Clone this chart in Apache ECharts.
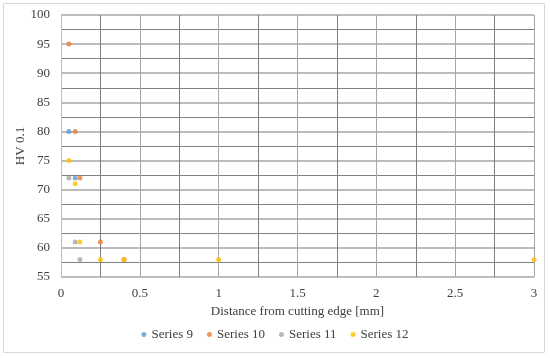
<!DOCTYPE html>
<html>
<head>
<meta charset="utf-8">
<script src="https://cdn.jsdelivr.net/npm/echarts@6/dist/echarts.min.js"></script>
<style>html,body{margin:0;padding:0;background:#fff}#c{width:550px;height:358px}</style>
</head>
<body>
<div id="c"></div>
<script>
var seriesNames = ['Series 9', 'Series 10', 'Series 11', 'Series 12'];
var colors = ['#5B9BD5', '#ED7D31', '#A5A5A5', '#FFC000'];
var xTicks = [0, 0.5, 1, 1.5, 2, 2.5, 3];
var s9x = [0.05, 0.09];
var s9y = [80, 72];
var s10x = [0.05, 0.09, 0.12, 0.25, 0.4];
var s10y = [95, 80, 72, 61, 58];
var s11x = [0.05, 0.09, 0.12];
var s11y = [72, 61, 58];
var s12x = [0.05, 0.09, 0.12, 0.25, 0.4, 1, 3];
var s12y = [75, 71, 61, 58, 58, 58, 58];

function pairs(xs, ys) { return xs.map(function (x, i) { return [x, ys[i]]; }); }
var allData = [pairs(s9x, s9y), pairs(s10x, s10y), pairs(s11x, s11y), pairs(s12x, s12y)];
var font = '"Liberation Serif", "DejaVu Serif", serif';
var fs = 13;

var chart = echarts.init(document.getElementById('c'), null, {renderer: 'canvas'});
chart.setOption({
  animation: false,
  textStyle: {fontFamily: font},
  graphic: [{
    type: 'rect', shape: {x: 3.5, y: 3.5, width: 541, height: 349},
    style: {fill: 'none', stroke: '#d9d9d9', lineWidth: 1}, silent: true
  }],
  grid: {left: 61, right: 16, top: 15, bottom: 81},
  legend: {
    bottom: 12, left: 'center', icon: 'circle', itemWidth: 5, itemHeight: 5, itemGap: 14,
    textStyle: {fontFamily: font, fontSize: fs, color: '#404040'},
    data: seriesNames
  },
  xAxis: {
    type: 'value', min: 0, max: 3, interval: 0.5,
    name: 'Distance from cutting edge [mm]', nameLocation: 'middle', nameGap: 28,
    nameTextStyle: {fontFamily: font, fontSize: fs, color: '#404040'},
    axisLine: {show: true, lineStyle: {color: '#bfbfbf'}},
    axisTick: {show: false},
    axisLabel: {margin: 10, fontFamily: font, fontSize: fs, color: '#404040',
      formatter: function (v) { return xTicks.indexOf(v) >= 0 ? String(v) : ''; }},
    splitLine: {show: true, lineStyle: {color: '#a6a6a6', width: 1}},
    minorTick: {show: false, splitNumber: 2},
    minorSplitLine: {show: true, lineStyle: {color: '#7f7f7f', width: 1}}
  },
  yAxis: {
    type: 'value', min: 55, max: 100, interval: 5,
    name: 'HV 0.1', nameLocation: 'middle', nameGap: 34, nameRotate: 90, nameMoveOverlap: false,
    nameTextStyle: {fontFamily: font, fontSize: fs, color: '#404040'},
    axisLine: {show: true, lineStyle: {color: '#bfbfbf'}},
    axisTick: {show: false},
    axisLabel: {margin: 11, fontFamily: font, fontSize: fs, color: '#404040'},
    splitLine: {show: true, lineStyle: {color: '#a6a6a6', width: 1.5}},
    minorTick: {show: false, splitNumber: 2},
    minorSplitLine: {show: true, lineStyle: {color: '#7f7f7f', width: 1}}
  },
  series: seriesNames.map(function (n, i) {
    return {
      name: n, type: 'scatter', data: allData[i], symbol: 'circle', symbolSize: 5,
      itemStyle: {color: colors[i]}, z: 3 + i
    };
  })
});
</script>
</body>
</html>
